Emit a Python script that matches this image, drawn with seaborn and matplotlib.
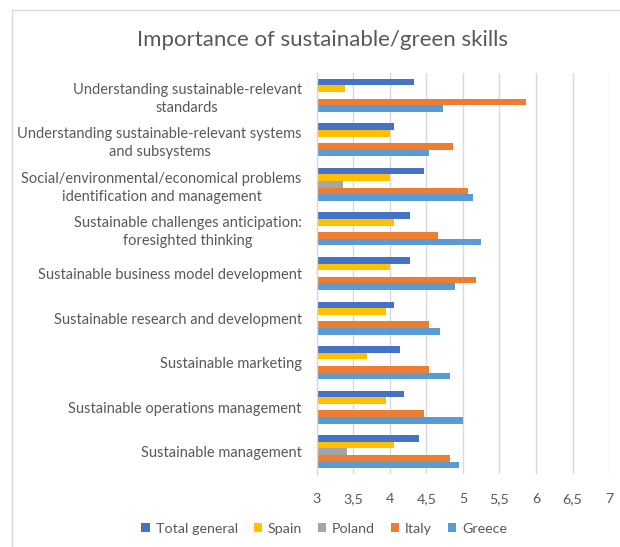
import matplotlib
matplotlib.use("Agg")
import matplotlib.pyplot as plt
from matplotlib.lines import Line2D
from matplotlib.patches import Patch
from matplotlib.ticker import FuncFormatter
import numpy as np
import pandas as pd
import seaborn as sns

# Skill categories (top to bottom)
categories = [
    "Understanding sustainable-relevant\nstandards",
    "Understanding sustainable-relevant systems\nand subsystems",
    "Social/environmental/economical problems\nidentification and management",
    "Sustainable challenges anticipation:\nforesighted thinking",
    "Sustainable business model development",
    "Sustainable research and development",
    "Sustainable marketing",
    "Sustainable operations management",
    "Sustainable management",
]

series_names = ["Total general", "Spain", "Poland", "Italy", "Greece"]

total_general = [4.33, 4.05, 4.47, 4.27, 4.27, 4.06, 4.14, 4.19, 4.40]
spain = [3.39, 4.00, 4.00, 4.06, 4.00, 3.94, 3.68, 3.94, 4.06]
poland = [np.nan, np.nan, 3.36, np.nan, np.nan, np.nan, np.nan, np.nan, 3.41]
italy = [5.86, 4.86, 5.07, 4.66, 5.18, 4.53, 4.53, 4.46, 4.82]
greece = [4.72, 4.54, 5.14, 5.24, 4.89, 4.68, 4.82, 5.00, 4.94]

x_ticks = [3, 3.5, 4, 4.5, 5, 5.5, 6, 6.5, 7]

colors = ["#4472C4", "#FFC000", "#A5A5A5", "#ED7D31", "#5B9BD5"]

rows = []
for name, vals in zip(series_names, [total_general, spain, poland, italy, greece]):
    for cat, v in zip(categories, vals):
        rows.append({"category": cat, "series": name, "value": v})
df = pd.DataFrame(rows)

sns.set_style("white")
plt.rcParams["font.family"] = ["Lato", "DejaVu Sans"]
text_color = "#595959"

fig = plt.figure(figsize=(6.2, 5.47), dpi=100)
ax = fig.add_axes([317 / 620, 1 - 474 / 547, 292 / 620, 401 / 547])

sns.barplot(
    data=df, x="value", y="category", hue="series",
    order=categories, hue_order=series_names, palette=colors,
    width=0.74, errorbar=None, orient="h", ax=ax, legend=False,
    linewidth=0, saturation=1,
)

ax.set_xlim(3, 7)
ax.set_ylim(len(categories) - 0.5, -0.5)
ax.set_xticks(x_ticks)
ax.xaxis.set_major_formatter(FuncFormatter(lambda v, p: f"{v:g}".replace(".", ",")))
ax.grid(axis="x", color="#D9D9D9", linewidth=1)
ax.set_axisbelow(True)
for side in ["top", "right", "bottom"]:
    ax.spines[side].set_visible(False)
ax.spines["left"].set_color("#D9D9D9")
ax.spines["left"].set_linewidth(1)
ax.tick_params(axis="both", length=0, colors=text_color)
ax.tick_params(axis="y", pad=11, labelsize=10.5)
ax.tick_params(axis="x", pad=14, labelsize=10.3)
ax.set_xlabel("")
ax.set_ylabel("")
for lbl in ax.get_yticklabels():
    lbl.set_horizontalalignment("right")
    lbl.set_multialignment("center")
    lbl.set_linespacing(1.35)

fig.text(0.52, 1 - 40 / 547, "Importance of sustainable/green skills",
         ha="center", va="center", fontsize=16, color=text_color)

handles = [Patch(facecolor=c, edgecolor="none") for c in colors]
fig.legend(handles, series_names, loc="center", bbox_to_anchor=(0.523, 1 - 529 / 547),
           ncol=5, frameon=False, fontsize=10.3, labelcolor=text_color,
           handlelength=0.6, handleheight=0.6, handletextpad=0.4, columnspacing=1.1)

# chart frame
fig.add_artist(Line2D([12 / 620, 12 / 620], [0, 1 - 10 / 547], transform=fig.transFigure,
                      color="#D9D9D9", linewidth=1))
fig.add_artist(Line2D([12 / 620, 1], [1 - 10 / 547, 1 - 10 / 547], transform=fig.transFigure,
                      color="#D9D9D9", linewidth=1))

fig.savefig("out.png", dpi=100, facecolor="white")
